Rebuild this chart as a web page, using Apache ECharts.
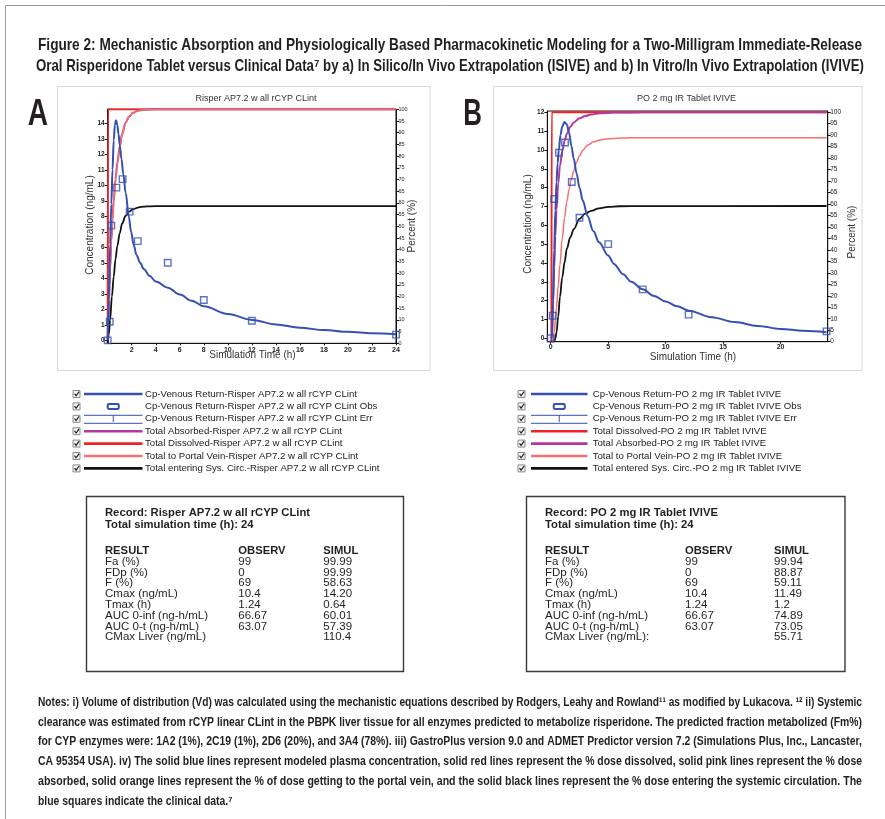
<!DOCTYPE html>
<html><head><meta charset="utf-8">
<script src="https://cdn.jsdelivr.net/npm/echarts@6/dist/echarts.min.js"></script>
<style>html,body{margin:0;padding:0;background:#fff}#c{width:885px;height:819px}</style>
</head><body><div id="c"></div>
<script>
// ---------------- DATA ----------------
const titleLines = [
  'Figure 2: Mechanistic Absorption and Physiologically Based Pharmacokinetic Modeling for a Two-Milligram Immediate-Release',
  'Oral Risperidone Tablet versus Clinical Data\u2077 by a) In Silico/In Vivo Extrapolation (ISIVE) and b) In Vitro/In Vivo Extrapolation (IVIVE)'
];
const panelLetters = ['A', 'B'];
const chartTitles = ['Risper AP7.2 w all rCYP CLint', 'PO 2 mg IR Tablet IVIVE'];
const yNameLeft = 'Concentration (ng/mL)';
const yNameRight = 'Percent (%)';
const xName = 'Simulation Time (h)';

const xLabelsA = [2, 4, 6, 8, 10, 12, 14, 16, 18, 20, 22, 24];
const xLabelsB = [0, 5, 10, 15, 20];
const yLeftLabelsA = [0, 1, 2, 3, 4, 5, 6, 7, 8, 9, 10, 11, 12, 13, 14];
const yLeftLabelsB = [0, 1, 2, 3, 4, 5, 6, 7, 8, 9, 10, 11, 12];
const yRightLabels = [0, 5, 10, 15, 20, 25, 30, 35, 40, 45, 50, 55, 60, 65, 70, 75, 80, 85, 90, 95, 100];

// clinical data (blue squares)
const obsTime = [0, 0.17, 0.3, 0.72, 1.24, 1.83, 2.5, 5, 8, 12, 24];
const obsConc = [0, 1.2, 7.4, 9.85, 10.4, 8.3, 6.4, 5.0, 2.6, 1.26, 0.37];

// Panel A (ISIVE)
const tCpA = [0, 0.1, 0.2, 0.3, 0.4, 0.5, 0.6, 0.69, 0.8, 0.9, 1.0, 1.15, 1.3, 1.5, 1.75, 1.95, 2.15, 2.4, 2.7, 3.0, 3.5, 4, 5, 6, 7, 8, 10, 12, 14, 16, 18, 20, 22, 24];
const cpA  = [0, 2.6, 6.2, 8.8, 11.0, 12.9, 13.9, 14.2, 13.9, 13.3, 12.6, 11.7, 10.7, 9.5, 8.0, 7.0, 6.2, 5.5, 5.0, 4.6, 4.15, 3.8, 3.4, 2.95, 2.55, 2.2, 1.7, 1.32, 1.03, 0.82, 0.66, 0.55, 0.46, 0.39];
const tDisA = [0, 0.03, 24];
const disA  = [0, 100, 100];
const tAbsA = [0, 0.05, 0.1, 0.15, 0.2, 0.3, 0.4, 0.5, 0.65, 0.8, 1.0, 1.2, 1.5, 1.8, 2.1, 2.5, 3.0, 3.5, 4, 24];
const absA  = [0, 8, 17, 25, 32, 44, 53, 61, 70, 77, 84, 89.5, 94.5, 97, 98.5, 99.4, 99.8, 99.95, 99.99, 99.99];
const tPvA = [0, 0.05, 0.1, 0.15, 0.2, 0.3, 0.4, 0.5, 0.65, 0.8, 1.0, 1.2, 1.5, 1.8, 2.1, 2.5, 3.0, 3.5, 4, 24];
const pvA  = [0, 7, 16, 24, 31, 43, 52.5, 60.5, 69.5, 76.5, 83.5, 89.2, 94.3, 96.9, 98.4, 99.4, 99.8, 99.95, 99.99, 99.99];
const tSysA = [0, 0.1, 0.2, 0.35, 0.5, 0.65, 0.8, 1.0, 1.2, 1.5, 1.8, 2.1, 2.6, 3.0, 3.5, 4.5, 24];
const sysA  = [0, 4, 10, 20, 28.5, 36, 41.5, 47, 51.2, 54.5, 56.3, 57.3, 58.1, 58.4, 58.55, 58.63, 58.63];

// Panel B (IVIVE)
const tCpB = [0, 0.1, 0.2, 0.3, 0.4, 0.5, 0.6, 0.7, 0.85, 1.0, 1.2, 1.4, 1.6, 1.8, 2.0, 2.25, 2.5, 2.8, 3.2, 3.7, 4.2, 5, 5.5, 6.3, 7, 8, 9, 10, 11, 12, 14, 16, 18, 20, 22, 24];
const cpB  = [0, 0.05, 2.0, 4.7, 6.8, 8.3, 9.3, 10.0, 10.8, 11.25, 11.49, 11.35, 10.9, 10.2, 9.55, 8.75, 8.0, 7.3, 6.5, 5.7, 5.1, 4.4, 3.95, 3.4, 3.0, 2.6, 2.25, 1.95, 1.7, 1.47, 1.12, 0.86, 0.66, 0.5, 0.4, 0.32];
const tDisB = [0.06, 0.08, 24];
const disB  = [0, 100, 100];
const tAbsB = [0, 0.1, 0.2, 0.3, 0.4, 0.5, 0.65, 0.8, 1.0, 1.2, 1.4, 1.7, 2.0, 2.5, 3.0, 3.5, 4.3, 5.5, 7, 9, 24];
const absB  = [0, 1, 16, 32, 46, 57.5, 69, 76.5, 83, 87.5, 90.5, 93.5, 95.5, 97.3, 98.3, 99.0, 99.5, 99.8, 99.9, 99.94, 99.94];
const tPvB = [0, 0.15, 0.3, 0.5, 0.65, 0.8, 1.0, 1.2, 1.4, 1.6, 1.8, 2.0, 2.25, 2.5, 2.8, 3.2, 3.7, 4.3, 5, 6, 7, 8.5, 24];
const pvB  = [0, 0, 4, 15, 24.5, 33.5, 45, 54, 61, 66.5, 71, 74.5, 78.2, 81, 83.5, 85.6, 87, 87.9, 88.4, 88.7, 88.8, 88.87, 88.87];
const tSysB = [0, 0.3, 0.4, 0.5, 0.65, 0.8, 1.0, 1.2, 1.4, 1.7, 2.0, 2.5, 3.0, 3.5, 4.2, 5, 6, 8, 24];
const sysB  = [0, 0, 1.5, 4, 11, 19.5, 28, 34.5, 40.5, 45.5, 49, 53.5, 55.8, 57, 58.1, 58.7, 59.0, 59.1, 59.11];

// legends
const legendA = [
  'Cp-Venous Return-Risper AP7.2 w all rCYP CLint',
  'Cp-Venous Return-Risper AP7.2 w all rCYP CLint Obs',
  'Cp-Venous Return-Risper AP7.2 w all rCYP CLint Err',
  'Total Absorbed-Risper AP7.2 w all rCYP CLint',
  'Total Dissolved-Risper AP7.2 w all rCYP CLint',
  'Total to Portal Vein-Risper AP7.2 w all rCYP CLint',
  'Total entering Sys. Circ.-Risper AP7.2 w all rCYP CLint'
];
const legendKindsA = ['cp', 'obs', 'err', 'abs', 'dis', 'pv', 'sys'];
const legendB = [
  'Cp-Venous Return-PO 2 mg IR Tablet IVIVE',
  'Cp-Venous Return-PO 2 mg IR Tablet IVIVE Obs',
  'Cp-Venous Return-PO 2 mg IR Tablet IVIVE Err',
  'Total Dissolved-PO 2 mg IR Tablet IVIVE',
  'Total Absorbed-PO 2 mg IR Tablet IVIVE',
  'Total to Portal Vein-PO 2 mg IR Tablet IVIVE',
  'Total entered Sys. Circ.-PO 2 mg IR Tablet IVIVE'
];
const legendKindsB = ['cp', 'obs', 'err', 'dis', 'abs', 'pv', 'sys'];

// result tables
const recordA = ['Record: Risper AP7.2 w all rCYP CLint', 'Total simulation time (h): 24'];
const recordB = ['Record: PO 2 mg IR Tablet IVIVE', 'Total simulation time (h): 24'];
const tableHeader = ['RESULT', 'OBSERV', 'SIMUL'];
const resultLabelsA = ['Fa (%)', 'FDp (%)', 'F (%)', 'Cmax (ng/mL)', 'Tmax (h)', 'AUC 0-inf (ng-h/mL)', 'AUC 0-t (ng-h/mL)', 'CMax Liver (ng/mL)'];
const resultLabelsB = ['Fa (%)', 'FDp (%)', 'F (%)', 'Cmax (ng/mL)', 'Tmax (h)', 'AUC 0-inf (ng-h/mL)', 'AUC 0-t (ng-h/mL)', 'CMax Liver (ng/mL):'];
const observA = ['99', '0', '69', '10.4', '1.24', '66.67', '63.07', ''];
const simulA  = ['99.99', '99.99', '58.63', '14.20', '0.64', '60.01', '57.39', '110.4'];
const observB = ['99', '0', '69', '10.4', '1.24', '66.67', '63.07', ''];
const simulB  = ['99.94', '88.87', '59.11', '11.49', '1.2', '74.89', '73.05', '55.71'];

const notesLines = [
  'Notes: i) Volume of distribution (Vd) was calculated using the mechanistic equations described by Rodgers, Leahy and Rowland\u00b9\u00b9 as modified by Lukacova. \u00b9\u00b2 ii) Systemic',
  'clearance was estimated from rCYP linear CLint in the PBPK liver tissue for all enzymes predicted to metabolize risperidone. The predicted fraction metabolized (Fm%)',
  'for CYP enzymes were: 1A2 (1%), 2C19 (1%), 2D6 (20%), and 3A4 (78%). iii) GastroPlus version 9.0 and ADMET Predictor version 7.2 (Simulations Plus, Inc., Lancaster,',
  'CA 95354 USA). iv) The solid blue lines represent modeled plasma concentration, solid red lines represent the % dose dissolved, solid pink lines represent the % dose',
  'absorbed, solid orange lines represent the % of dose getting to the portal vein, and the solid black lines represent the % dose entering the systemic circulation. The',
  'blue squares indicate the clinical data.\u2077'
];

// ---------------- STYLES / HELPERS ----------------
const FONT = "'Liberation Sans', Arial, 'DejaVu Sans', sans-serif";
const NARROW = "'Liberation Sans Narrow', 'Liberation Sans', Arial, 'DejaVu Sans', sans-serif";
const INK = '#231f20';
const C = { cp: '#3450b0', dis: '#ee2326', abs: '#b23a9c', pv: '#f37070', sys: '#111111' };

const mctx = document.createElement('canvas').getContext('2d');
function measure(text, weight, size, family) {
  mctx.font = weight + ' ' + size + 'px ' + family;
  return mctx.measureText(text).width;
}
function txt(x, y, text, o) {
  o = o || {};
  return {
    type: 'text', x: x, y: y, silent: true,
    scaleX: o.sx || 1, rotation: o.rot || 0,
    style: {
      text: text, fontSize: o.size || 10, fontFamily: o.family || FONT,
      fontWeight: o.weight || 'normal', fill: o.color || INK,
      align: o.align || 'left', verticalAlign: o.va || 'middle'
    }
  };
}
const zip = (xs, ys) => xs.map((x, i) => [x, ys[i]]);

const G = [];
// outer frame (top + left)
G.push({ type: 'polyline', silent: true, shape: { points: [[5.5, 830], [5.5, 5.5], [890, 5.5]] }, style: { stroke: '#9a9a9a', lineWidth: 1, fill: null } });
// panel frames
G.push({ type: 'rect', silent: true, shape: { x: 57.5, y: 86.5, width: 372.5, height: 284 }, style: { stroke: '#d6d6d6', lineWidth: 1, fill: null } });
G.push({ type: 'rect', silent: true, shape: { x: 493.5, y: 86.5, width: 368.5, height: 284 }, style: { stroke: '#d6d6d6', lineWidth: 1, fill: null } });

// main title
const tSize = 17;
[[38, 45, 824], [36, 66, 828]].forEach((p, i) => {
  const w = measure(titleLines[i], 'bold', tSize, NARROW);
  G.push(txt(p[0], p[1], titleLines[i], { size: tSize, weight: 'bold', family: NARROW, sx: p[2] / w }));
});
// panel letters
G.push(txt(38, 115, panelLetters[0], { size: 36, weight: 'bold', family: NARROW, align: 'center', sx: 0.78 }));
G.push(txt(472.5, 115, panelLetters[1], { size: 36, weight: 'bold', family: NARROW, align: 'center', sx: 0.72 }));

// chart titles and axis names
G.push(txt(256, 98.5, chartTitles[0], { size: 9, color: '#333', align: 'center' }));
G.push(txt(686.5, 99, chartTitles[1], { size: 9, color: '#333', align: 'center' }));
G.push(txt(90, 225, yNameLeft, { size: 10, color: '#333', align: 'center', rot: Math.PI / 2 }));
G.push(txt(528.5, 224, yNameLeft, { size: 10, color: '#333', align: 'center', rot: Math.PI / 2 }));
G.push(txt(412, 226, yNameRight, { size: 10, color: '#333', align: 'center', rot: Math.PI / 2 }));
G.push(txt(852, 232, yNameRight, { size: 10, color: '#333', align: 'center', rot: Math.PI / 2 }));
G.push(txt(252.5, 355.5, xName, { size: 10, color: '#333', align: 'center' }));
G.push(txt(693, 357, xName, { size: 10, color: '#333', align: 'center' }));

// legends
const legSize = 9.5;
const legScale = 212 / measure(legendA[0], 'normal', legSize, FONT);
function legend(cbx, lx1, lx2, tx, y0, labels, kinds) {
  labels.forEach((lab, i) => {
    const y = y0 + i * 12.4;
    G.push({ type: 'rect', silent: true, shape: { x: cbx + 0.5, y: y - 3.5, width: 7, height: 7 }, style: { stroke: '#8a8a8a', fill: '#f4f4f4', lineWidth: 1 } });
    G.push({ type: 'polyline', silent: true, shape: { points: [[cbx + 2, y - 0.3], [cbx + 3.6, y + 1.8], [cbx + 6.6, y - 2.4]] }, style: { stroke: '#222', lineWidth: 1.2, fill: null } });
    const k = kinds[i];
    const mid = (lx1 + lx2) / 2;
    if (k === 'obs') {
      G.push({ type: 'rect', silent: true, shape: { x: mid - 5.5, y: y - 2.5, width: 11, height: 5, r: 1.2 }, style: { stroke: C.cp, lineWidth: 2, fill: '#fff' } });
    } else if (k === 'err') {
      G.push({ type: 'polyline', silent: true, shape: { points: [[lx1, y - 3.5], [lx2, y - 3.5]] }, style: { stroke: C.cp, lineWidth: 1, fill: null } });
      G.push({ type: 'polyline', silent: true, shape: { points: [[lx1, y + 4.5], [lx2, y + 4.5]] }, style: { stroke: C.cp, lineWidth: 1, fill: null } });
      G.push({ type: 'polyline', silent: true, shape: { points: [[mid, y - 3.5], [mid, y + 3]] }, style: { stroke: C.cp, lineWidth: 1, fill: null } });
    } else {
      G.push({ type: 'polyline', silent: true, shape: { points: [[lx1, y], [lx2, y]] }, style: { stroke: C[k], lineWidth: 2.6, fill: null } });
    }
    G.push(txt(tx, y, lab, { size: legSize, color: '#222', sx: legScale }));
  });
}
legend(72.5, 84, 142.5, 145, 394, legendA, legendKindsA);
legend(517.5, 531, 587.5, 592.7, 394, legendB, legendKindsB);

// tables
const tbSize = 11;
const sBold = 205 / measure(recordA[0], 'bold', tbSize, FONT);
const sReg = 103 / measure('AUC 0-inf (ng-h/mL)', 'normal', tbSize, FONT);
function table(bx, bw, c1, c2, c3, rec, labels, obs, sim) {
  G.push({ type: 'rect', silent: true, shape: { x: bx, y: 496.5, width: bw, height: 175 }, style: { stroke: '#3a3a3a', lineWidth: 1.4, fill: null } });
  G.push(txt(c1, 512.7, rec[0], { size: tbSize, weight: 'bold', sx: sBold }));
  G.push(txt(c1, 525, rec[1], { size: tbSize, weight: 'bold', sx: sBold }));
  G.push(txt(c1, 550.5, tableHeader[0], { size: tbSize, weight: 'bold', sx: sBold }));
  G.push(txt(c2, 550.5, tableHeader[1], { size: tbSize, weight: 'bold', sx: sBold }));
  G.push(txt(c3, 550.5, tableHeader[2], { size: tbSize, weight: 'bold', sx: sBold }));
  labels.forEach((lab, i) => {
    const y = 561.7 + i * 10.8;
    G.push(txt(c1, y, lab, { size: tbSize, sx: sReg }));
    G.push(txt(c2, y, obs[i], { size: tbSize, sx: sReg }));
    G.push(txt(c3, y, sim[i], { size: tbSize, sx: sReg }));
  });
}
table(86.5, 317, 105, 238.3, 323.3, recordA, resultLabelsA, observA, simulA);
table(526.5, 318.5, 545, 685, 774, recordB, resultLabelsB, observB, simulB);

// notes
const nSize = 12;
let nScales = [];
notesLines.forEach((ln, i) => {
  if (i < notesLines.length - 1) nScales.push(824 / measure(ln, 'bold', nSize, NARROW));
});
const nAvg = nScales.reduce((a, b) => a + b, 0) / nScales.length;
notesLines.forEach((ln, i) => {
  const s = i < nScales.length ? nScales[i] : nAvg;
  G.push(txt(38, 702.5 + i * 19.8, ln, { size: nSize, weight: 'bold', family: NARROW, sx: s }));
});

// ---------------- CHART ----------------
const axisCol = '#111';
function xAx(grid, min, max, labels, margin) {
  return {
    gridIndex: grid, type: 'value', min: min, max: max,
    axisLine: { show: true, onZero: false, lineStyle: { color: axisCol, width: 1 } },
    axisTick: { show: true, length: 2, customValues: labels, lineStyle: { color: axisCol } },
    axisLabel: { customValues: labels, fontSize: 7, fontWeight: 'bold', color: '#222', margin: margin, fontFamily: FONT },
    splitLine: { show: false }
  };
}
function yAx(grid, pos, min, max, labels, size, margin, bold) {
  return {
    gridIndex: grid, type: 'value', position: pos, min: min, max: max,
    axisLine: { show: true, onZero: false, lineStyle: { color: axisCol, width: 1 } },
    axisTick: { show: true, length: 3, customValues: labels, lineStyle: { color: axisCol } },
    axisLabel: { customValues: labels, fontSize: size, fontWeight: bold ? 'bold' : 'normal', color: '#222', margin: margin, fontFamily: FONT },
    splitLine: { show: false }
  };
}
function line(xi, yi, data, color, width, z) {
  return { type: 'line', xAxisIndex: xi, yAxisIndex: yi, data: data, symbol: 'none', smooth: 0.35, smoothMonotone: 'x',
    lineStyle: { color: color, width: width }, z: z, animation: false, silent: true };
}
function obs(xi, yi) {
  return { type: 'scatter', xAxisIndex: xi, yAxisIndex: yi, data: zip(obsTime, obsConc), symbol: 'rect', symbolSize: 6.5,
    itemStyle: { color: 'rgba(255,255,255,0)', borderColor: C.cp, borderWidth: 1.4 }, z: 6, animation: false, silent: true };
}

const option = {
  backgroundColor: '#fff',
  animation: false,
  grid: [
    { left: 107.7, top: 109.3, width: 288.3, height: 234, show: true, borderColor: axisCol, borderWidth: 1, backgroundColor: 'transparent' },
    { left: 547.3, top: 111, width: 280.4, height: 230.7, show: true, borderColor: axisCol, borderWidth: 1, backgroundColor: 'transparent' }
  ],
  xAxis: [
    xAx(0, 0, 24, xLabelsA, 3),
    xAx(1, -0.3, 24.1, xLabelsB, 2)
  ],
  yAxis: [
    yAx(0, 'left', -0.19, 14.9, yLeftLabelsA, 6.5, 3, true),
    yAx(0, 'right', 0, 100, yRightLabels, 5.5, 2.5, false),
    yAx(1, 'left', -0.18, 12.07, yLeftLabelsB, 6.5, 3, true),
    yAx(1, 'right', 0, 100.5, yRightLabels, 6.5, 2.5, false)
  ],
  series: [
    line(0, 1, zip(tDisA, disA), C.dis, 2, 2),
    line(0, 1, zip(tAbsA, absA), C.abs, 2, 2),
    line(0, 1, zip(tPvA, pvA), C.pv, 1.6, 3),
    line(0, 1, zip(tSysA, sysA), C.sys, 1.8, 3),
    line(0, 0, zip(tCpA, cpA), C.cp, 2, 4),
    obs(0, 0),
    line(1, 3, zip(tDisB, disB), C.dis, 2, 2),
    line(1, 3, zip(tAbsB, absB), C.abs, 2, 2),
    line(1, 3, zip(tPvB, pvB), C.pv, 1.5, 3),
    line(1, 3, zip(tSysB, sysB), C.sys, 1.8, 3),
    line(1, 2, zip(tCpB, cpB), C.cp, 2, 4),
    obs(1, 2)
  ],
  graphic: G
};
const chart = echarts.init(document.getElementById('c'), null, { renderer: 'canvas', width: 885, height: 819 });
chart.setOption(option);
</script></body></html>
